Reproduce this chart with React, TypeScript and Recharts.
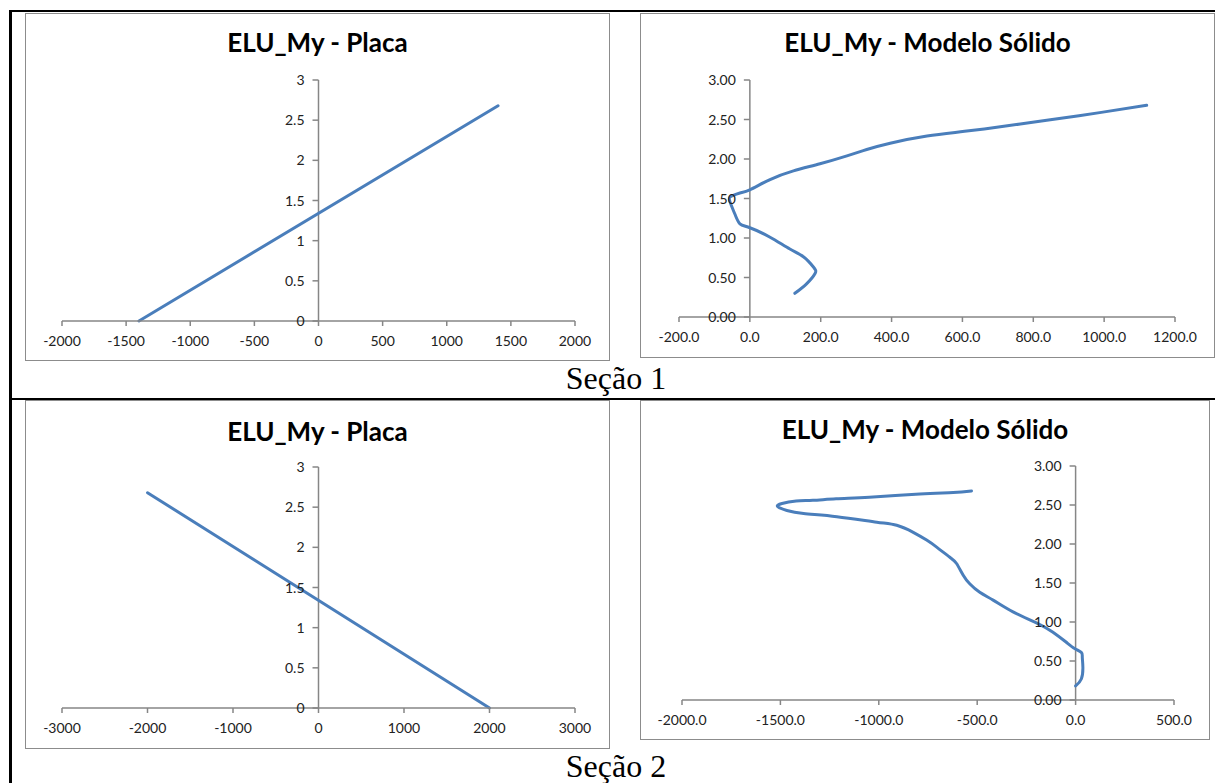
import { Line, LineChart, ReferenceLine, XAxis, YAxis } from "recharts";

const LINE_BLUE = "#4a7ebb";
const AXIS_GREY = "#868686";
const BOX_GREY = "#8c8c8c";
const FONT = "Lato, 'Open Sans', sans-serif";
const XAXIS_H = 30;

// Seção 1 – placa: straight line
const placa1X = [-1400, 1400];
const placa1Y = [0, 2.68];

// Seção 1 – modelo sólido
const solido1X = [
  127, 160, 184, 180, 152, 113, 57, 0, -28, -42, -57, -52, -28, 0, 57, 123,
  198, 274, 330, 396, 500, 606, 727, 838, 992, 1120,
];
const solido1Y = [
  0.3, 0.42, 0.55, 0.63, 0.76, 0.86, 1.01, 1.13, 1.18, 1.3, 1.47, 1.53, 1.57,
  1.61, 1.74, 1.85, 1.94, 2.04, 2.12, 2.2, 2.29, 2.35, 2.42, 2.49, 2.59, 2.68,
];

// Seção 2 – placa
const placa2X = [-2000, 2000];
const placa2Y = [2.68, 0];

// Seção 2 – modelo sólido
const solido2X = [
  0, 29, 37, 34, 29, -5, -47, -115, -199, -318, -419, -487, -538, -571, -605,
  -639, -706, -757, -825, -909, -1010, -1213, -1382, -1467, -1514, -1492,
  -1420, -1335, -1217, -1048, -791, -622, -529,
];
const solido2Y = [
  0.18, 0.27, 0.42, 0.55, 0.61, 0.66, 0.74, 0.87, 0.99, 1.13, 1.28, 1.38, 1.49,
  1.6, 1.75, 1.83, 1.96, 2.05, 2.15, 2.24, 2.28, 2.35, 2.39, 2.43, 2.48, 2.52,
  2.55, 2.56, 2.58, 2.6, 2.64, 2.66, 2.68,
];

const placa1Ticks = [-2000, -1500, -1000, -500, 0, 500, 1000, 1500, 2000];
const placa2Ticks = [-3000, -2000, -1000, 0, 1000, 2000, 3000];
const solido1Ticks = [-200, 0, 200, 400, 600, 800, 1000, 1200];
const solido2Ticks = [-2000, -1500, -1000, -500, 0, 500];
const yTicks = [0, 0.5, 1, 1.5, 2, 2.5, 3];

const zip = (xs: number[], ys: number[]) =>
  xs.map((x, i) => ({ x, y: ys[i] }));

const plain = (v: number) => String(v);
const oneDec = (v: number) => v.toFixed(1);
const twoDec = (v: number) => v.toFixed(2);

interface Panel {
  title: string;
  left: number;
  top: number;
  width: number;
  height: number;
  titleTop: number;
  // plotLeft is the y-axis band width; the plot starts right after it
  plotLeft: number;
  margin: { top: number; right: number; bottom: number };
  xTicks: number[];
  xFmt: (v: number) => string;
  yFmt: (v: number) => string;
  data: { x: number; y: number }[];
}

const panels: Panel[] = [
  {
    title: "ELU_My - Placa",
    left: 25,
    top: 13,
    width: 585,
    height: 348,
    titleTop: 15,
    plotLeft: 36,
    margin: { top: 66, right: 34, bottom: 9 },
    xTicks: placa1Ticks,
    xFmt: plain,
    yFmt: plain,
    data: zip(placa1X, placa1Y),
  },
  {
    title: "ELU_My - Modelo Sólido",
    left: 640,
    top: 13,
    width: 575,
    height: 345,
    titleTop: 15,
    plotLeft: 38,
    margin: { top: 66, right: 39, bottom: 10 },
    xTicks: solido1Ticks,
    xFmt: oneDec,
    yFmt: twoDec,
    data: zip(solido1X, solido1Y),
  },
  {
    title: "ELU_My - Placa",
    left: 25,
    top: 400,
    width: 585,
    height: 349,
    titleTop: 17,
    plotLeft: 36,
    margin: { top: 66, right: 34, bottom: 10 },
    xTicks: placa2Ticks,
    xFmt: plain,
    yFmt: plain,
    data: zip(placa2X, placa2Y),
  },
  {
    title: "ELU_My - Modelo Sólido",
    left: 640,
    top: 400,
    width: 570,
    height: 340,
    titleTop: 15,
    plotLeft: 41,
    margin: { top: 65, right: 35, bottom: 9 },
    xTicks: solido2Ticks,
    xFmt: oneDec,
    yFmt: twoDec,
    data: zip(solido2X, solido2Y),
  },
];

// y labels sit beside the vertical axis at x = 0, not at the plot's left edge
function YTick(props: any) {
  const { y, payload, zeroX, fmt } = props;
  return (
    <g>
      <line
        stroke={AXIS_GREY}
        strokeWidth={1.5}
        x1={zeroX - 6}
        x2={zeroX}
        y1={y}
        y2={y}
      />
      <text
        dy="0.36em"
        fill="#222"
        fontFamily={FONT}
        fontSize={14}
        textAnchor="end"
        x={zeroX - 14}
        y={y}
      >
        {fmt(payload.value)}
      </text>
    </g>
  );
}

function XTick(props: any) {
  const { x, payload, axisY, fmt } = props;
  return (
    <text
      dy="0.36em"
      fill="#222"
      fontFamily={FONT}
      fontSize={14}
      textAnchor="middle"
      x={x}
      y={axisY + 20}
    >
      {fmt(payload.value)}
    </text>
  );
}

function ChartPanel({ p }: { p: Panel }) {
  const w = p.width - 2;
  const h = p.height - 2;
  const m = p.margin;
  const plotW = w - p.plotLeft - m.right;
  const xMin = p.xTicks[0];
  const xMax = p.xTicks[p.xTicks.length - 1];
  const zeroX = p.plotLeft + ((0 - xMin) / (xMax - xMin)) * plotW;
  const axisY = h - m.bottom - XAXIS_H;

  return (
    <div
      style={{
        position: "absolute",
        left: p.left,
        top: p.top,
        width: p.width,
        height: p.height,
        boxSizing: "border-box",
        border: `1px solid ${BOX_GREY}`,
        background: "#fff",
      }}
    >
      <LineChart
        data={p.data}
        height={h}
        margin={{ ...m, left: 0 }}
        width={w}
      >
        <XAxis
          axisLine={{ stroke: AXIS_GREY, strokeWidth: 1.5 }}
          dataKey="x"
          domain={[xMin, xMax]}
          height={XAXIS_H}
          interval={0}
          tick={<XTick axisY={axisY} fmt={p.xFmt} />}
          tickLine={{ stroke: AXIS_GREY, strokeWidth: 1.5 }}
          tickSize={5}
          ticks={p.xTicks}
          type="number"
        />
        <YAxis
          axisLine={false}
          domain={[0, 3]}
          interval={0}
          tick={<YTick fmt={p.yFmt} zeroX={zeroX} />}
          tickLine={false}
          ticks={yTicks}
          type="number"
          width={p.plotLeft}
        />
        <ReferenceLine stroke={AXIS_GREY} strokeWidth={1.5} x={0} />
        <Line
          dataKey="y"
          dot={false}
          isAnimationActive={false}
          stroke={LINE_BLUE}
          strokeLinecap="round"
          strokeLinejoin="round"
          strokeWidth={3}
          type="natural"
        />
      </LineChart>
      <div
        style={{
          position: "absolute",
          left: 0,
          right: 0,
          top: p.titleTop,
          textAlign: "center",
          fontFamily: FONT,
          fontWeight: 700,
          fontSize: 26,
          lineHeight: "26px",
          color: "#000",
        }}
      >
        {p.title}
      </div>
    </div>
  );
}

const captionStyle = {
  position: "absolute" as const,
  left: 9,
  width: 1214,
  textAlign: "center" as const,
  fontFamily: "'Liberation Serif', 'Times New Roman', serif",
  fontSize: 32,
  lineHeight: "32px",
  color: "#000",
};

export default function App() {
  return (
    <div
      style={{
        position: "absolute",
        left: 0,
        top: 0,
        width: 1215,
        height: 783,
        overflow: "hidden",
        background: "#fff",
      }}
    >
      {/* table rules */}
      <div style={{ position: "absolute", left: 9, top: 10, width: 1206, height: 2, background: "#000" }} />
      <div style={{ position: "absolute", left: 9, top: 10, width: 3, height: 773, background: "#000" }} />
      <div style={{ position: "absolute", left: 9, top: 398, width: 1206, height: 2, background: "#000" }} />

      {panels.map((p, i) => (
        <ChartPanel key={i} p={p} />
      ))}

      <div style={{ ...captionStyle, top: 362 }}>Seção 1</div>
      <div style={{ ...captionStyle, top: 750 }}>Seção 2</div>
    </div>
  );
}
